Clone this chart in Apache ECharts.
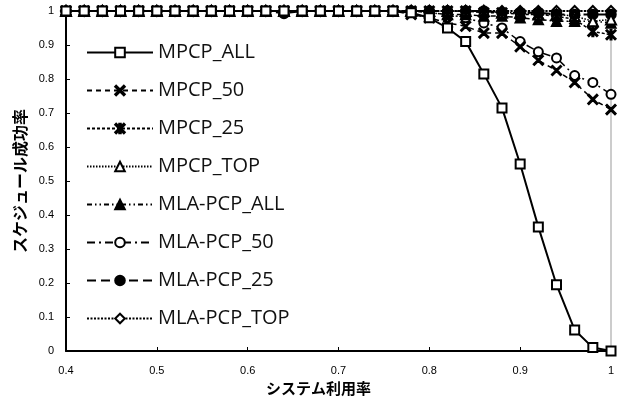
<!DOCTYPE html>
<html><head><meta charset="utf-8">
<script src="https://cdn.jsdelivr.net/npm/echarts@6/dist/echarts.min.js"></script>
<style>html,body{margin:0;padding:0;background:#fff}#c{width:623px;height:403px}</style>
</head><body><div id="c"></div>
<script>
const xs = [0.40,0.42,0.44,0.46,0.48,0.50,0.52,0.54,0.56,0.58,0.60,0.62,0.64,0.66,0.68,0.70,0.72,0.74,0.76,0.78,0.80,0.82,0.84,0.86,0.88,0.90,0.92,0.94,0.96,0.98,1.00];
const mpcpAll   = [1,1,1,1,1,1,1,1,1,1,1,1,1,1,1,1,1,1,1,0.995,0.98,0.95,0.91,0.815,0.715,0.55,0.365,0.195,0.062,0.01,0];
const mpcp50    = [1,1,1,1,1,1,1,1,1,1,1,1,1,1,1,1,1,1,1,0.99,0.98,0.965,0.955,0.935,0.935,0.895,0.855,0.825,0.79,0.74,0.71];
const mpcp25    = [1,1,1,1,1,1,1,1,1,1,1,1,1,1,1,1,1,1,1,1,1,1,1,0.995,0.995,0.99,0.99,0.985,0.975,0.94,0.93];
const mpcpTop   = [1,1,1,1,1,1,1,1,1,1,1,1,1,1,1,1,1,1,1,1,1,1,1,1,0.995,0.995,0.99,0.99,0.985,0.97,0.975];
const mlaAll    = [1,1,1,1,1,1,1,1,1,1,1,1,1,1,1,1,1,1,1,1,0.995,0.99,0.99,0.985,0.985,0.98,0.975,0.97,0.97,0.97,0.965];
const mla50     = [1,1,1,1,1,1,1,1,1,1,1,1,1,1,1,1,1,1,1,1,0.995,0.99,0.98,0.965,0.95,0.91,0.88,0.862,0.81,0.79,0.755];
const mla25     = [1,1,1,1,1,1,1,1,1,1,1,1,0.993,1,1,1,1,1,1,1,1,1,1,1,0.995,0.995,0.995,0.99,0.99,0.99,0.99];
const mlaTop    = [1,1,1,1,1,1,1,1,1,1,1,1,1,1,1,1,1,1,1,1,1,1,1,1,1,1,1,1,1,1,1];
const names = ['MPCP_ALL','MPCP_50','MPCP_25','MPCP_TOP','MLA-PCP_ALL','MLA-PCP_50','MLA-PCP_25','MLA-PCP_TOP'];
const yTicks = [0,0.1,0.2,0.3,0.4,0.5,0.6,0.7,0.8,0.9,1];
const xTicks = [0.4,0.5,0.6,0.7,0.8,0.9,1];

const XSYM = 'path://M1,0 L5,4 L9,0 L10,1 L6,5 L10,9 L9,10 L5,6 L1,10 L0,9 L4,5 L0,1 Z';
const ASYM = 'path://M1,0 L5,4 L9,0 L10,1 L6,5 L10,9 L9,10 L5,6 L1,10 L0,9 L4,5 L0,1 Z M4.2,0 L5.8,0 L5.8,10 L4.2,10 Z';

const styles = [
  {data: mpcpAll, sym:'emptyRect', size:9, type:'solid', w:2},
  {data: mpcp50, sym:XSYM, size:10, type:[5,4], w:1.5},
  {data: mpcp25, sym:ASYM, size:10, type:[3,2], w:1.5},
  {data: mpcpTop, sym:'emptyTriangle', size:10, type:[1.5,1.5], w:1.5},
  {data: mlaAll, sym:'triangle', size:10, type:[5,3,1.5,3,1.5,3], w:1.5},
  {data: mla50, sym:'emptyCircle', size:9, type:[8,4,2,4], w:1.5},
  {data: mla25, sym:'circle', size:10, type:[9,5], w:2},
  {data: mlaTop, sym:'emptyDiamond', size:10, type:[2,1.5], w:2}
];

const series = styles.map((s,i)=>({
  name: names[i], type:'line',
  data: xs.map((x,j)=>[x, s.data[j]]),
  symbol: s.sym, symbolSize: s.size, showSymbol:true,
  lineStyle:{color:'#000', width:s.w, type:s.type},
  itemStyle:{color:'#000', borderColor:'#000', borderWidth:1.5},
  z: 10-i
}));

const chart = echarts.init(document.getElementById('c'), null, {renderer:'canvas'});
chart.setOption({
  backgroundColor:'#fff',
  animation:false,
  grid:{left:66, right:12, top:11, bottom:52, show:true, borderColor:'#999', borderWidth:1},
  legend:{
    orient:'vertical', left:86, top:41, padding:0, itemGap:15, itemWidth:66, itemHeight:12,
    data: names,
    textStyle:{fontFamily:'Open Sans', fontSize:20, lineHeight:23, color:'#111', padding:[0,0,0,0]}
  },
  xAxis:{
    type:'value', min:0.4, max:1, interval:0.1,
    name:'システム利用率', nameLocation:'middle', nameGap:21,
    nameTextStyle:{fontFamily:'Noto Sans CJK JP', fontSize:15, fontWeight:'bold', color:'#000', padding:[0,40,0,0]},
    axisLine:{lineStyle:{color:'#000', width:2}},
    axisTick:{inside:true, length:4, lineStyle:{color:'#000'}},
    axisLabel:{fontFamily:'Liberation Sans', fontSize:11, color:'#000', margin:14,
      formatter:v=>{const r=Math.round(v*10)/10; return r===1?'1':r.toFixed(1);}},
    splitLine:{show:false}
  },
  yAxis:{
    type:'value', min:0, max:1, interval:0.1,
    name:'スケジュール成功率', nameLocation:'middle', nameGap:38,
    nameTextStyle:{fontFamily:'Noto Sans CJK JP', fontSize:16, fontWeight:'bold', color:'#000'},
    axisLine:{lineStyle:{color:'#000', width:2}},
    axisTick:{inside:true, length:4, lineStyle:{color:'#000'}},
    axisLabel:{fontFamily:'Liberation Sans', fontSize:11, color:'#000', margin:12,
      formatter:v=>{const r=Math.round(v*10)/10; return r===1?'1':(r===0?'0':r.toFixed(1));}},
    splitLine:{show:false}
  },
  series: series
});
</script>
</body></html>
